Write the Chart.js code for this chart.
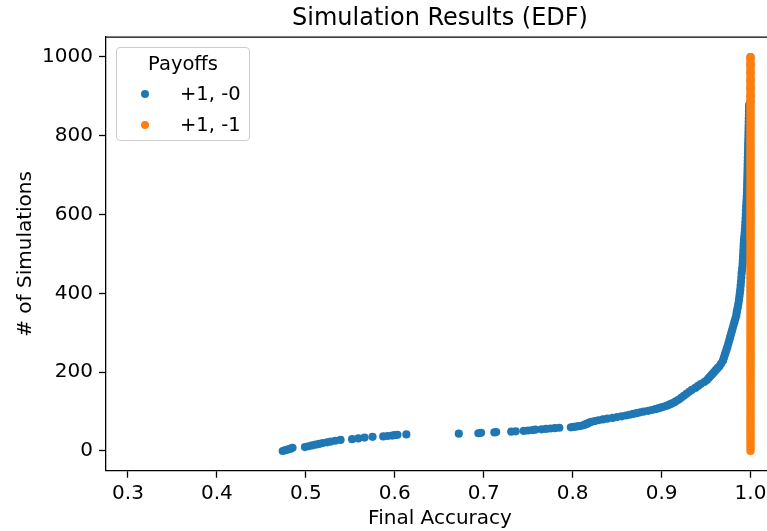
<!DOCTYPE html>
<html>
<head>
<meta charset="utf-8">
<script src="https://cdn.jsdelivr.net/npm/chart.js@4/dist/chart.umd.min.js"></script>
<style>
  html, body { margin: 0; padding: 0; background: #fff; overflow: hidden; width: 767px; height: 531px; }
  #wrap { position: relative; width: 790px; height: 531px; }
  #legend { position: absolute; left: 116px; top: 47px; width: 132px; height: 92px;
            border: 1px solid #cccccc; border-radius: 4px; background: rgba(255,255,255,0.8);
            font-family: "DejaVu Sans", sans-serif; font-size: 19.5px; color: #000; }
  #legend .ttl { position: absolute; left: 0; width: 100%; top: 4px; text-align: center; line-height: 24px; }
  #legend .item { position: absolute; left: 0; width: 100%; height: 24px; }
  #legend .dot { position: absolute; left: 23.5px; top: 7.9px; width: 8.2px; height: 8.2px; border-radius: 50%; }
  #legend .lbl { position: absolute; left: 63px; top: 0; line-height: 24px; white-space: nowrap; }
</style>
</head>
<body>
<div id="wrap">
  <canvas id="c" width="790" height="531"></canvas>
  <div id="legend"></div>
</div>
<script>
// ---- data ----
const chartTitle = "Simulation Results (EDF)";
const xAxisTitle = "Final Accuracy";
const yAxisTitle = "# of Simulations";
const legendTitle = "Payoffs";
const seriesLabels = ["+1, -0", "+1, -1"];
const seriesColors = ["#1f77b4", "#ff7f0e"];

const xTicks = [0.3, 0.4, 0.5, 0.6, 0.7, 0.8, 0.9, 1.0];
const xTickLabels = ["0.3", "0.4", "0.5", "0.6", "0.7", "0.8", "0.9", "1.0"];
const yTicks = [0, 200, 400, 600, 800, 1000];
const yTickLabels = ["0", "200", "400", "600", "800", "1000"];

// Series "+1, -0": simulation rank (EDF count) and final accuracy
const blueRank = [
  0, 2, 4, 6, 8,
  10, 12, 14, 16, 18, 20, 22, 24, 26, 28,
  30, 32, 34, 36,
  37, 38, 39, 40, 41,
  42, 44, 45, 46, 47, 48, 49, 50,
  51, 52, 53, 54, 55, 56, 57, 58, 59,
  60, 61, 62, 63,
  64, 66, 68, 70, 72, 74, 76, 78, 80, 82, 84, 86, 88, 90, 92, 94, 96, 98,
  100, 102, 104, 106, 108, 110, 112, 114, 116, 118, 120, 123, 126,
  130, 135, 140, 145, 150, 155, 160, 165, 170, 175, 180, 185, 190, 195,
  200, 205, 210, 215, 222, 229, 236, 243, 250, 257, 264, 272, 280, 288, 296,
  304, 312, 320, 328, 336, 344, 352, 358, 366, 374, 383, 392,
  401, 410, 420, 430, 440, 451, 460, 468, 476, 484, 492,
  500, 509, 518, 526, 535, 544, 553, 562, 571, 580, 590,
  600, 610, 620, 629, 637, 646, 655, 664, 673, 682, 691,
  700, 709, 718, 727, 736, 745, 754, 763, 772, 781, 790, 799,
  808, 817, 826, 835, 844, 853, 862, 871, 878,
  886, 900, 920, 940, 960, 980, 999
];
const blueAcc = [
  0.474, 0.477, 0.480, 0.483, 0.485,
  0.499, 0.503, 0.507, 0.511, 0.515, 0.519, 0.524, 0.528, 0.533, 0.539,
  0.552, 0.559, 0.566, 0.575,
  0.587, 0.592, 0.597, 0.600, 0.603,
  0.613, 0.672, 0.694, 0.697, 0.712, 0.714, 0.731, 0.736,
  0.745, 0.750, 0.755, 0.758, 0.765, 0.770, 0.775, 0.780, 0.785,
  0.798, 0.801, 0.804, 0.807,
  0.810, 0.813, 0.815, 0.817, 0.819, 0.821, 0.825, 0.829, 0.834, 0.839, 0.845, 0.850, 0.855, 0.860, 0.864, 0.868, 0.872, 0.876,
  0.880, 0.885, 0.889, 0.893, 0.896, 0.899, 0.902, 0.905, 0.907, 0.909, 0.911, 0.914, 0.916,
  0.919, 0.922, 0.925, 0.928, 0.931, 0.934, 0.938, 0.941, 0.944, 0.948, 0.951, 0.953, 0.955, 0.957,
  0.959, 0.961, 0.963, 0.965, 0.967, 0.969, 0.970, 0.971, 0.972, 0.973, 0.974, 0.975, 0.976, 0.977, 0.978,
  0.979, 0.980, 0.981, 0.982, 0.983, 0.984, 0.9845, 0.985, 0.9858, 0.9864, 0.987, 0.9875,
  0.988, 0.9885, 0.9889, 0.9893, 0.9897, 0.990, 0.9905, 0.991, 0.9912, 0.9914, 0.9916,
  0.9918, 0.992, 0.9922, 0.9924, 0.9926, 0.993, 0.9934, 0.9937, 0.994, 0.9942, 0.9945,
  0.9947, 0.9949, 0.9951, 0.9954, 0.9956, 0.9958, 0.996, 0.9961, 0.9962, 0.9963, 0.9964,
  0.9965, 0.9966, 0.9967, 0.9968, 0.9969, 0.997, 0.9971, 0.9972, 0.9973, 0.9974, 0.9975, 0.9976,
  0.9977, 0.9978, 0.9979, 0.998, 0.9981, 0.9982, 0.9983, 0.9984, 0.9985,
  1.0, 1.0, 1.0, 1.0, 1.0, 1.0, 1.0
];

// Series "+1, -1": every simulation ended at accuracy 1.0
const orangeAcc = 1.0;
const orangeRank = [
  0, 5, 10, 15, 20, 25, 30, 35, 40, 45, 50, 55, 60, 65, 70, 75, 80, 85, 90, 95,
  100, 105, 110, 115, 120, 125, 130, 135, 140, 145, 150, 155, 160, 165, 170, 175, 180, 185, 190, 195,
  200, 205, 210, 215, 220, 225, 230, 235, 240, 245, 250, 255, 260, 265, 270, 275, 280, 285, 290, 295,
  300, 305, 310, 315, 320, 325, 330, 335, 340, 345, 350, 355, 360, 365, 370, 375, 380, 385, 390, 395,
  400, 405, 410, 415, 420, 425, 430, 435, 440, 445, 450, 455, 460, 465, 470, 475, 480, 485, 490, 495,
  500, 505, 510, 515, 520, 525, 530, 535, 540, 545, 550, 555, 560, 565, 570, 575, 580, 585, 590, 595,
  600, 605, 610, 615, 620, 625, 630, 635, 640, 645, 650, 655, 660, 665, 670, 675, 680, 685, 690, 695,
  700, 705, 710, 715, 720, 725, 730, 735, 740, 745, 750, 755, 760, 765, 770, 775, 780, 785, 790, 795,
  800, 805, 810, 815, 820, 825, 830, 835, 840, 845, 850, 855, 860, 865, 870, 875, 880, 885, 890, 895,
  900, 905, 910, 915, 920, 925, 930, 935, 940, 945, 950, 955, 960, 965, 970, 975, 980, 985, 990, 995, 999
];

// ---- chart ----
const FONT = "'DejaVu Sans', sans-serif";

const framePlugin = {
  id: 'frame',
  afterDatasetsDraw(c) {
    const { ctx, chartArea: a } = c;
    ctx.save();
    ctx.strokeStyle = '#000';
    ctx.lineWidth = 1.3;
    ctx.beginPath();
    ctx.moveTo(a.left, a.top);
    ctx.lineTo(a.right, a.top);
    ctx.lineTo(a.right, a.bottom);
    ctx.stroke();
    ctx.restore();
  }
};

const ctx = document.getElementById('c').getContext('2d');
const chart = new Chart(ctx, {
  type: 'scatter',
  data: {
    datasets: [
      {
        label: seriesLabels[0],
        data: blueRank.map((r, i) => ({ x: blueAcc[i], y: r })),
        backgroundColor: seriesColors[0],
        borderColor: seriesColors[0],
        borderWidth: 0,
        pointRadius: 4.1,
        pointHoverRadius: 4.1,
        order: 1
      },
      {
        label: seriesLabels[1],
        data: orangeRank.map(r => ({ x: orangeAcc, y: r })),
        backgroundColor: seriesColors[1],
        borderColor: seriesColors[1],
        borderWidth: 0,
        pointRadius: 4.1,
        pointHoverRadius: 4.1,
        order: 0
      }
    ]
  },
  options: {
    responsive: false,
    animation: false,
    devicePixelRatio: 1,
    events: [],
    layout: { padding: { left: 0, right: 16, top: 0, bottom: 0 } },
    plugins: {
      legend: { display: false },
      tooltip: { enabled: false },
      title: {
        display: true,
        text: chartTitle,
        fullSize: false,
        color: '#000',
        font: { family: FONT, size: 24, weight: 'normal', lineHeight: 1.2 },
        padding: { top: 4, bottom: 4.3 }
      }
    },
    scales: {
      x: {
        type: 'linear',
        min: 0.2753,
        max: 1.0264,
        afterBuildTicks: s => { s.ticks = xTicks.map(v => ({ value: v })); },
        afterFit: s => { s.height = 60.3; },
        ticks: {
          callback: (v, i) => xTickLabels[i],
          color: '#000',
          font: { family: FONT, size: 20 },
          padding: 4.5,
          maxRotation: 0,
          autoSkip: false
        },
        grid: { display: true, drawOnChartArea: false, drawTicks: true, tickLength: 7, tickWidth: 1.3, tickColor: '#000' },
        border: { display: true, color: '#000', width: 1.3 },
        title: {
          display: true, text: xAxisTitle, color: '#000',
          font: { family: FONT, size: 20, lineHeight: 1.2 },
          padding: { top: 0, bottom: 0.5 }
        }
      },
      y: {
        type: 'linear',
        min: -50,
        max: 1050,
        afterBuildTicks: s => { s.ticks = yTicks.map(v => ({ value: v })); },
        afterFit: s => { s.width = 106; },
        ticks: {
          callback: (v, i) => yTickLabels[i],
          color: '#000',
          font: { family: FONT, size: 20 },
          padding: 6,
          autoSkip: false
        },
        grid: { display: true, drawOnChartArea: false, drawTicks: true, tickLength: 7, tickWidth: 1.3, tickColor: '#000' },
        border: { display: true, color: '#000', width: 1.3 },
        title: {
          display: true, text: yAxisTitle, color: '#000',
          font: { family: FONT, size: 20, lineHeight: 1.2 },
          padding: { top: 14, bottom: 0 }
        }
      }
    }
  },
  plugins: [framePlugin]
});

// ---- legend (inside the axes, upper left) ----
const legend = document.getElementById('legend');
const t = document.createElement('div');
t.className = 'ttl';
t.textContent = legendTitle;
legend.appendChild(t);
chart.data.datasets.forEach((ds, i) => {
  const item = document.createElement('div');
  item.className = 'item';
  item.style.top = (34.3 + i * 30.7) + 'px';
  const dot = document.createElement('div');
  dot.className = 'dot';
  dot.style.background = ds.backgroundColor;
  const lbl = document.createElement('div');
  lbl.className = 'lbl';
  lbl.textContent = ds.label;
  item.appendChild(dot);
  item.appendChild(lbl);
  legend.appendChild(item);
});
</script>
</body>
</html>
